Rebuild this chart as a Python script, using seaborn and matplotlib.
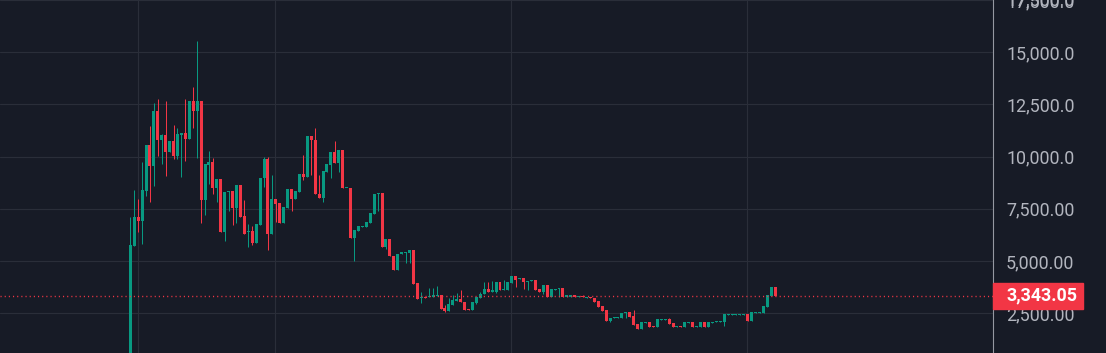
import numpy as np
import pandas as pd
import matplotlib
matplotlib.use("Agg")
import matplotlib.pyplot as plt
import seaborn as sns
from matplotlib.patches import Rectangle
from matplotlib.transforms import blended_transform_factory

# -------------------------------
# Candle data (weekly)
# -------------------------------
opens = [300, 5710, 7130, 6900, 8370, 10560, 9560, 12180, 10800, 11040,
         10230, 10750, 10040, 11040, 11130, 10850, 12660, 12180, 12660, 7900,
         9610, 9750, 8520, 8920, 6370, 8310, 8360, 7550, 8650, 7170,
         6370, 6420, 5880, 6740, 8980, 9890, 6310, 7980, 7790, 6830,
         7550, 8460, 7980, 8320, 9180, 9000, 10980, 10780, 8230, 8040,
         9270, 9600, 10220, 9700, 10320, 8480, 8510, 6110, 6450, 6610,
         6610, 6820, 7250, 8230, 8280, 5650, 6070, 5250, 4560, 5320,
         5400, 5400, 5540, 3970, 3240, 3270, 3270, 3300, 3320, 3390,
         2730, 2600, 2900, 3090, 3200, 3060, 2690, 2640, 2970, 3210,
         3400, 3680, 3540, 3540, 4010, 3590, 3630, 3960, 4290, 4150,
         4200, 4010, 4060, 4100, 3680, 3540, 3870, 3260, 3630, 3680,
         3730, 3300, 3300, 3350, 3270, 3320, 3220, 3270, 3210, 3070,
         2830, 2640, 2120, 2260, 2290, 2290, 2500, 2550, 2370, 1990,
         1750, 2040, 2090, 1900, 1850, 2180, 2180, 2230, 2040, 1850,
         1900, 1850, 2040, 2090, 1850, 1850, 2090, 1850, 2040, 2090,
         2090, 2090, 2420, 2420, 2420, 2420, 2420, 2470, 2140, 2520,
         2520, 2520, 2800, 3330, 3750]
highs = [7090, 8420, 7990, 9750, 10560, 11470, 12560, 12750, 11090, 12660,
         10750, 11510, 11370, 11130, 12750, 12660, 13320, 15560, 12660, 9660,
         10280, 9940, 8920, 8920, 8310, 8360, 8360, 8650, 8650, 7930,
         6780, 6690, 6780, 8980, 9980, 9980, 9120, 7980, 7790, 7600,
         8460, 8460, 8360, 9180, 10080, 10980, 10980, 11360, 9130, 9320,
         9650, 10220, 10740, 10320, 10320, 8510, 8510, 6470, 6660, 6660,
         6850, 7280, 8230, 8280, 8280, 6070, 6070, 5250, 5350, 5450,
         5450, 5540, 5540, 3970, 3540, 3270, 3700, 3730, 3780, 3390,
         2870, 3250, 3390, 3490, 3590, 3060, 2690, 3020, 3260, 3540,
         4010, 4010, 4060, 4010, 4010, 4100, 4010, 4290, 4290, 4200,
         4200, 4060, 4100, 4100, 3680, 3870, 3870, 3680, 3680, 3730,
         3730, 3350, 3350, 3350, 3320, 3350, 3270, 3270, 3210, 3070,
         2830, 2640, 2260, 2310, 2320, 2500, 2550, 2550, 2660, 1990,
         2090, 2090, 2090, 1900, 2230, 2230, 2230, 2280, 2040, 1900,
         1900, 2090, 2090, 2090, 1900, 2090, 2090, 2090, 2090, 2140,
         2140, 2470, 2470, 2470, 2470, 2470, 2470, 2470, 2560, 2560,
         2560, 2850, 3370, 3750, 3750]
lows = [250, 5710, 6390, 5820, 8130, 7820, 8610, 10040, 9660, 9090,
        10230, 9900, 9900, 9040, 9800, 10850, 11370, 9940, 6800, 7180,
        8710, 8230, 7830, 6370, 5970, 7400, 6740, 6830, 7120, 6310,
        5690, 5780, 5880, 6740, 8550, 5540, 6310, 6880, 6830, 6830,
        7550, 7400, 7980, 8320, 8890, 9000, 9130, 8200, 8040, 7820,
        9270, 8990, 9700, 9270, 8480, 8480, 6110, 5020, 6450, 6610,
        6610, 6820, 7250, 7390, 5680, 5560, 5220, 4560, 4560, 5320,
        4890, 4920, 3920, 3160, 2970, 3220, 3270, 3300, 3320, 2700,
        2540, 2600, 2900, 3090, 3030, 2650, 2640, 2640, 2920, 3210,
        3400, 3540, 3540, 3490, 3590, 3590, 3630, 3960, 3770, 4150,
        3680, 3630, 4060, 3630, 3540, 3400, 3260, 3260, 3630, 3300,
        3300, 3300, 3300, 3300, 3270, 3270, 3220, 3220, 3020, 2780,
        2590, 2120, 2080, 2260, 2290, 2290, 2290, 2330, 1950, 1750,
        1750, 2040, 1850, 1850, 1850, 2180, 2180, 1990, 1850, 1850,
        1850, 1850, 2040, 1850, 1850, 1850, 1850, 1850, 2040, 2090,
        2090, 1900, 2420, 2420, 2420, 2420, 2420, 2140, 2140, 2520,
        2520, 2520, 2800, 3330, 3343.05]
closes = [5750, 7130, 6900, 8420, 10560, 9560, 12180, 10800, 11040, 10230,
          10750, 10040, 11090, 11130, 10850, 12660, 12180, 12660, 7900, 9660,
          9750, 8520, 8920, 6370, 8310, 8360, 7550, 8650, 7120, 6310,
          6420, 5880, 6780, 8980, 9890, 6310, 7980, 7740, 6830, 7600,
          8460, 7980, 8360, 9180, 9000, 10980, 10780, 8200, 8040, 9320,
          9650, 10220, 9700, 10320, 8480, 8510, 6110, 6470, 6660, 6660,
          6850, 7280, 8230, 8280, 5680, 6070, 5220, 4560, 5350, 5450,
          5450, 5540, 3920, 3160, 3270, 3220, 3300, 3350, 3390, 2700,
          2600, 2920, 3110, 3200, 3030, 2650, 2640, 3020, 3260, 3440,
          3680, 3540, 3590, 4010, 3590, 3680, 4010, 4290, 4100, 4200,
          4010, 4060, 4100, 3630, 3540, 3870, 3260, 3680, 3680, 3730,
          3300, 3350, 3350, 3300, 3320, 3270, 3270, 3220, 3020, 2780,
          2590, 2120, 2260, 2310, 2320, 2500, 2550, 2330, 1950, 1750,
          2090, 2090, 1850, 1850, 2230, 2230, 2230, 1990, 1850, 1900,
          1850, 2090, 2090, 1850, 1900, 2090, 1850, 2090, 2090, 2140,
          2140, 2470, 2470, 2470, 2470, 2470, 2470, 2140, 2560, 2560,
          2560, 2850, 3370, 3750, 3343.05]

price_ticks = [2500, 5000, 7500, 10000, 12500, 15000, 17500]
time_grid = [2, 36.8, 96.8, 156.8]   # vertical separators (candle index)

df = pd.DataFrame({"open": opens, "high": highs, "low": lows, "close": closes})
df["idx"] = np.arange(len(df))
df["up"] = df["close"] >= df["open"]

# -------------------------------
# Style
# -------------------------------
BG = "#171b26"
GRID = "#2a2e39"
UP = "#089981"
DOWN = "#f23645"
TXT = "#b2b5be"

sns.set_theme(style="dark", rc={
    "axes.facecolor": BG, "figure.facecolor": BG,
    "grid.color": GRID, "axes.grid": True, "grid.linewidth": 0.8,
})
plt.rcParams["font.family"] = ["Roboto", "DejaVu Sans"]

fig = plt.figure(figsize=(11.06, 3.53), dpi=100)
ax = fig.add_axes([0, 0, 993 / 1106, 1])

ymin, ymax = 595, 17405
colors = np.where(df["up"], UP, DOWN)
px = (ymax - ymin) / 353.0

# wicks
ax.vlines(df["idx"], df["low"], df["high"], colors=colors, linewidth=0.72, zorder=2)
# bodies (at least 1px tall)
body_lo = df[["open", "close"]].min(axis=1)
body_h = np.maximum((df["close"] - df["open"]).abs(), px)
ax.bar(df["idx"], body_h, bottom=body_lo, width=0.76, color=colors,
       linewidth=0, zorder=3)

last = closes[-1]
ax.axhline(last, color=DOWN, lw=1.0, ls=(0, (0.8, 2.2)), zorder=4)

ax.set_xlim(-33.13, 219.35)
ax.set_ylim(ymin, ymax)

# axes / ticks
ax.set_xticks(time_grid)
ax.tick_params(axis="x", length=0, labelbottom=False)
ax.yaxis.tick_right()
ax.set_yticks(price_ticks)


def fmt(v):
    return f"{v:,.1f}" if v >= 10000 else f"{v:,.2f}"


ax.set_yticklabels([fmt(v) for v in price_ticks])
ax.tick_params(axis="y", length=0, pad=9.4, labelsize=12.9, labelcolor=TXT)
for lab in ax.get_yticklabels():
    lab.set_horizontalalignment("left")

ax.grid(True, color=GRID, lw=0.8)
for s in ["top", "left", "bottom"]:
    ax.spines[s].set_visible(False)
ax.spines["right"].set_color("#9598a1")
ax.spines["right"].set_linewidth(0.8)

# top label, partly outside the frame as in the original
ax.annotate(fmt(price_ticks[-1]), xy=(1, price_ticks[-1]),
            xycoords=("axes fraction", "data"), xytext=(9.4, 0),
            textcoords="offset points", ha="left", va="center",
            fontsize=12.9, color=TXT, annotation_clip=False)

# last price tag
trans = blended_transform_factory(ax.transAxes, ax.transData)
ax.add_patch(Rectangle((1.0, last - 13 * px), 90 / 993, 26 * px,
                       transform=trans, color=DOWN, clip_on=False, zorder=10))
ax.annotate(f"{last:,.2f}", xy=(1, last), xycoords=("axes fraction", "data"),
            xytext=(9.4, 0), textcoords="offset points", ha="left", va="center",
            fontsize=12.9, color="white", fontweight="bold", zorder=11,
            annotation_clip=False)

fig.savefig("out.png", dpi=100, facecolor=BG)
